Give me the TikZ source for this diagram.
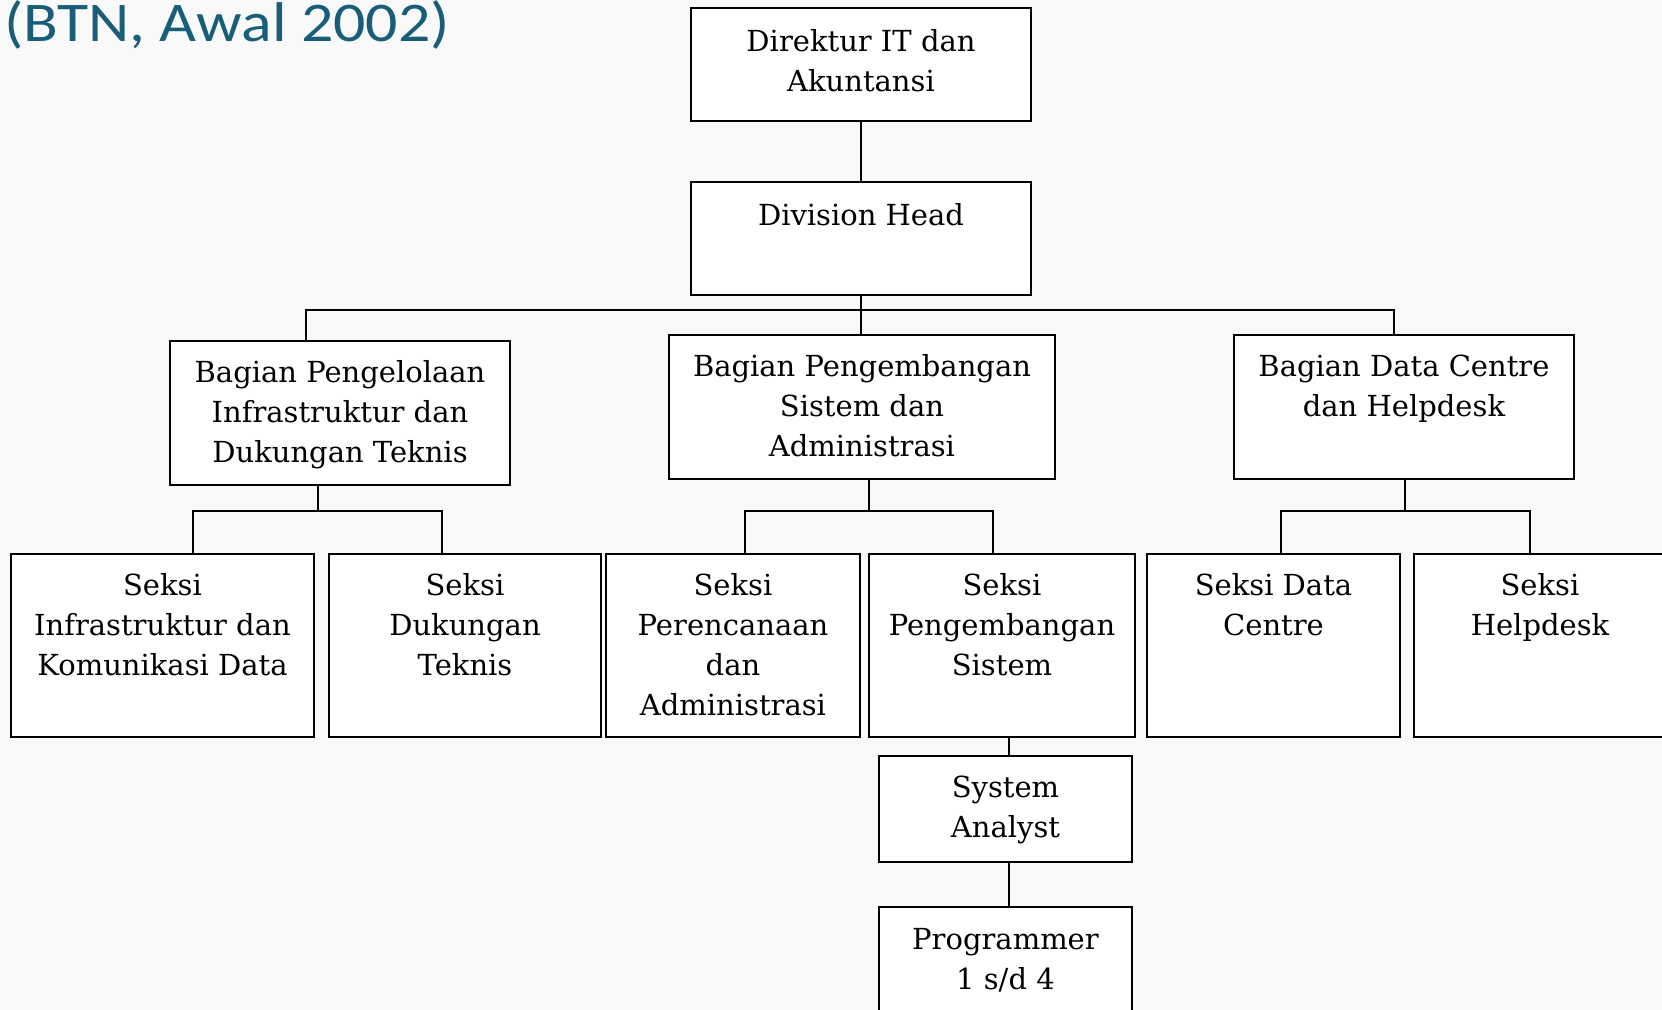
\documentclass[tikz,border=0pt]{standalone}
\usepackage{fontspec}
\setmainfont{DejaVu Serif}
\newfontfamily\titlefont{Carlito}
\usetikzlibrary{fit}
\definecolor{titleteal}{RGB}{24,94,120}
\definecolor{pagebg}{RGB}{249,249,249}
% centred lines whose baseline is that of the first line
\newcommand\boxlines[1]{\begin{tabular}[t]{@{}c@{}}#1\end{tabular}}
\begin{document}
\begin{tikzpicture}[x=0.5pt,y=-0.5pt,
  box/.style={draw=black, fill=white, line width=1.3pt, inner sep=0pt, rectangle},
  lbl/.style={font=\fontsize{14.5pt}{20pt}\selectfont, inner sep=0pt, anchor=base},
  conn/.style={draw=black, line width=1.3pt},
  title/.style={font=\titlefont\fontsize{28pt}{32pt}\selectfont, text=titleteal, inner sep=0pt, anchor=base west}]
\useasboundingbox (0,0) rectangle (1662,1010);
\clip (0,0) rectangle (1662,1010);
\fill[pagebg] (0,0) rectangle (1662,1010);

% heading
\node[title] (ttl) at (4,42) {\scalebox{1.14}[1]{(BTN, Awal 2002)}};

% top of the chart
\node[box, fit={(691,8) (1031,121)}] (dir) {};
\node[lbl] (dirT) at (861,52) {\boxlines{Direktur IT dan\\Akuntansi}};
\node[box, fit={(691,182) (1031,295)}] (div) {};
\node[lbl] (divT) at (861,226) {Division Head};

% sections
\node[box, fit={(170,341) (510,485)}] (bagA) {};
\node[lbl] (bagAT) at (340,383) {\boxlines{Bagian Pengelolaan\\Infrastruktur dan\\Dukungan Teknis}};
\node[box, fit={(669,335) (1055,479)}] (bagB) {};
\node[lbl] (bagBT) at (862,377) {\boxlines{Bagian Pengembangan\\Sistem dan\\Administrasi}};
\node[box, fit={(1234,335) (1574,479)}] (bagC) {};
\node[lbl] (bagCT) at (1404,377) {\boxlines{Bagian Data Centre\\dan Helpdesk}};

% sub-sections
\node[box, fit={(11,554) (314,737)}] (s1) {};
\node[lbl] (s1T) at (162.5,596) {\boxlines{Seksi\\Infrastruktur dan\\Komunikasi Data}};
\node[box, fit={(329,554) (601,737)}] (s2) {};
\node[lbl] (s2T) at (465,596) {\boxlines{Seksi\\Dukungan\\Teknis}};
\node[box, fit={(606,554) (860,737)}] (s3) {};
\node[lbl] (s3T) at (733,596) {\boxlines{Seksi\\Perencanaan\\dan\\Administrasi}};
\node[box, fit={(869,554) (1135,737)}] (s4) {};
\node[lbl] (s4T) at (1002,596) {\boxlines{Seksi\\Pengembangan\\Sistem}};
\node[box, fit={(1147,554) (1400,737)}] (s5) {};
\node[lbl] (s5T) at (1273.5,596) {\boxlines{Seksi Data\\Centre}};
\node[box, fit={(1414,554) (1668,737)}] (s6) {};
\node[lbl] (s6T) at (1540,596) {\boxlines{Seksi\\Helpdesk}};

% staff under system development
\node[box, fit={(879,756) (1132,862)}] (sa) {};
\node[lbl] (saT) at (1005.5,798) {\boxlines{System\\Analyst}};
\node[box, fit={(879,907) (1132,1040)}] (prog) {};
\node[lbl] (progT) at (1005.5,950) {\boxlines{Programmer\\1 s/d 4}};

% junction points
\coordinate (jA) at (306,310);
\coordinate (jC) at (1394,310);
\coordinate (kA) at (318,511);
\coordinate (kA1) at (193,511);
\coordinate (kA2) at (442,511);
\coordinate (kB) at (869,511);
\coordinate (kB1) at (745,511);
\coordinate (kB2) at (993,511);
\coordinate (kC) at (1405,511);
\coordinate (kC1) at (1281,511);
\coordinate (kC2) at (1530,511);
\coordinate (kS) at (1009,737);

% connectors
\draw[conn] (dir.south) -- (div.north);
\draw[conn] (div.south) -- (div.south |- bagB.north);
\draw[conn] (jA |- bagA.north) -- (jA) -- (jC) -- (jC |- bagC.north);

\draw[conn] (kA |- bagA.south) -- (kA);
\draw[conn] (kA1 |- s1.north) -- (kA1) -- (kA2) -- (kA2 |- s2.north);
\draw[conn] (kB |- bagB.south) -- (kB);
\draw[conn] (kB1 |- s3.north) -- (kB1) -- (kB2) -- (kB2 |- s4.north);
\draw[conn] (kC |- bagC.south) -- (kC);
\draw[conn] (kC1 |- s5.north) -- (kC1) -- (kC2) -- (kC2 |- s6.north);

\draw[conn] (kS |- s4.south) -- (kS |- sa.north);
\draw[conn] (kS |- sa.south) -- (kS |- prog.north);
\end{tikzpicture}
\end{document}
